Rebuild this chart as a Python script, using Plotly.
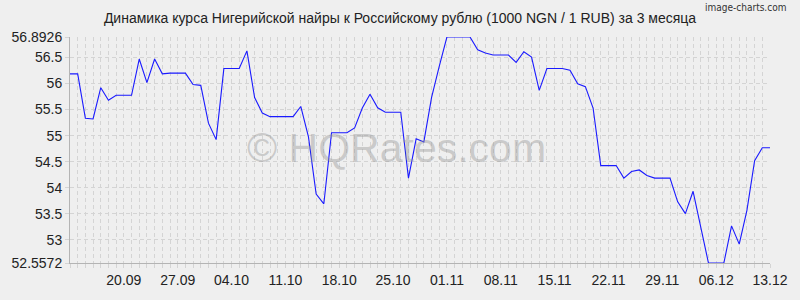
import pandas as pd
import plotly.graph_objects as go

start_date = "2023-09-13"
end_date = "2023-12-13"
dates = pd.date_range(start_date, end_date, freq="D")

rates = [
    56.186, 56.186, 55.334, 55.320, 55.920, 55.680, 55.775, 55.775, 55.775, 56.470,
    56.016, 56.470, 56.186, 56.200, 56.200, 56.200, 55.980, 55.965, 55.240, 54.924,
    56.287, 56.287, 56.287, 56.627, 55.730, 55.435, 55.365, 55.365, 55.365, 55.365,
    55.560, 54.975, 53.880, 53.693, 55.056, 55.056, 55.056, 55.150, 55.530, 55.795,
    55.535, 55.448, 55.448, 55.448, 54.185, 54.940, 54.880, 55.730, 56.330, 56.8926,
    56.8926, 56.8926, 56.8926, 56.646, 56.584, 56.546, 56.546, 56.546, 56.406, 56.609,
    56.508, 55.870, 56.287, 56.287, 56.287, 56.255, 55.997, 55.940, 55.530, 54.426,
    54.426, 54.426, 54.185, 54.312, 54.342, 54.236, 54.185, 54.185, 54.185, 53.731,
    53.504, 53.933, 53.239, 52.5572, 52.5572, 52.5572, 53.270, 52.920, 53.567, 54.520,
    54.767, 54.767,
]

y_min = 52.5572
y_max = 56.8926
y_ticks = [52.5572, 53, 53.5, 54, 54.5, 55, 55.5, 56, 56.5, 56.8926]
y_tick_text = ["52.5572", "53", "53.5", "54", "54.5", "55", "55.5", "56", "56.5", "56.8926"]

x_tick_text = ["20.09", "27.09", "04.10", "11.10", "18.10", "25.10", "01.11",
               "08.11", "15.11", "22.11", "29.11", "06.12", "13.12"]
x_tick_years = [2023] * len(x_tick_text)
x_tick_vals = [pd.Timestamp(year=yr, month=int(t[3:]), day=int(t[:2]))
               for t, yr in zip(x_tick_text, x_tick_years)]

title = "Динамика курса Нигерийской найры к Российскому рублю (1000 NGN / 1 RUB) за 3 месяца"
watermark = "© HQRates.com"
credit = "image-charts.com"

bg = "#efefef"
grid = "#d4d4d4"
axis_col = "#b4b4b4"
font_fam = "Liberation Sans, Arial, sans-serif"
dash = "4px,3px"

fig = go.Figure()
fig.add_trace(go.Scatter(
    x=dates, y=rates, mode="lines",
    line=dict(color="#1a1aff", width=1.1),
    hoverinfo="skip",
))

fig.update_layout(
    width=800, height=300,
    paper_bgcolor=bg, plot_bgcolor=bg,
    margin=dict(l=67, r=20, t=37, b=34),
    showlegend=False,
    font=dict(family=font_fam, size=14, color="#222222"),
    title=dict(text=title, x=0.5, xanchor="center", y=0.94, yanchor="middle",
               font=dict(family=font_fam, size=14, color="#222222")),
)

fig.update_xaxes(
    range=[dates[0], dates[-1]],
    tickvals=x_tick_vals, ticktext=x_tick_text,
    showgrid=True, gridcolor=grid, griddash=dash, gridwidth=1,
    showline=True, linecolor=axis_col, linewidth=1,
    ticks="outside", ticklen=4, tickcolor=grid,
    minor=dict(dtick=86400000, showgrid=True, gridcolor=grid, griddash=dash,
               gridwidth=1, ticks="outside", ticklen=4, tickcolor=grid),
    zeroline=False,
    tickfont=dict(size=14, color="#222222"),
)
fig.update_yaxes(
    range=[y_min, y_max],
    tickvals=y_ticks, ticktext=y_tick_text,
    showgrid=True, gridcolor=grid, griddash=dash, gridwidth=1,
    showline=True, linecolor=axis_col, linewidth=1,
    ticks="outside", ticklen=4, tickcolor=grid,
    zeroline=False,
    tickfont=dict(size=14, color="#222222"),
)

fig.add_annotation(
    text=watermark, xref="paper", yref="paper", x=0.467, y=0.51,
    xanchor="center", yanchor="middle", showarrow=False,
    font=dict(family=font_fam, size=41, color="rgba(150,150,150,0.42)"),
)
fig.add_annotation(
    text=credit, xref="paper", yref="paper", x=1.0, y=1.0,
    xanchor="right", yanchor="top", showarrow=False,
    xshift=18, yshift=37,
    font=dict(family="Liberation Sans Narrow, DejaVu Sans Condensed, sans-serif",
              size=10, color="#333333"),
)

fig.write_html("out.html")
